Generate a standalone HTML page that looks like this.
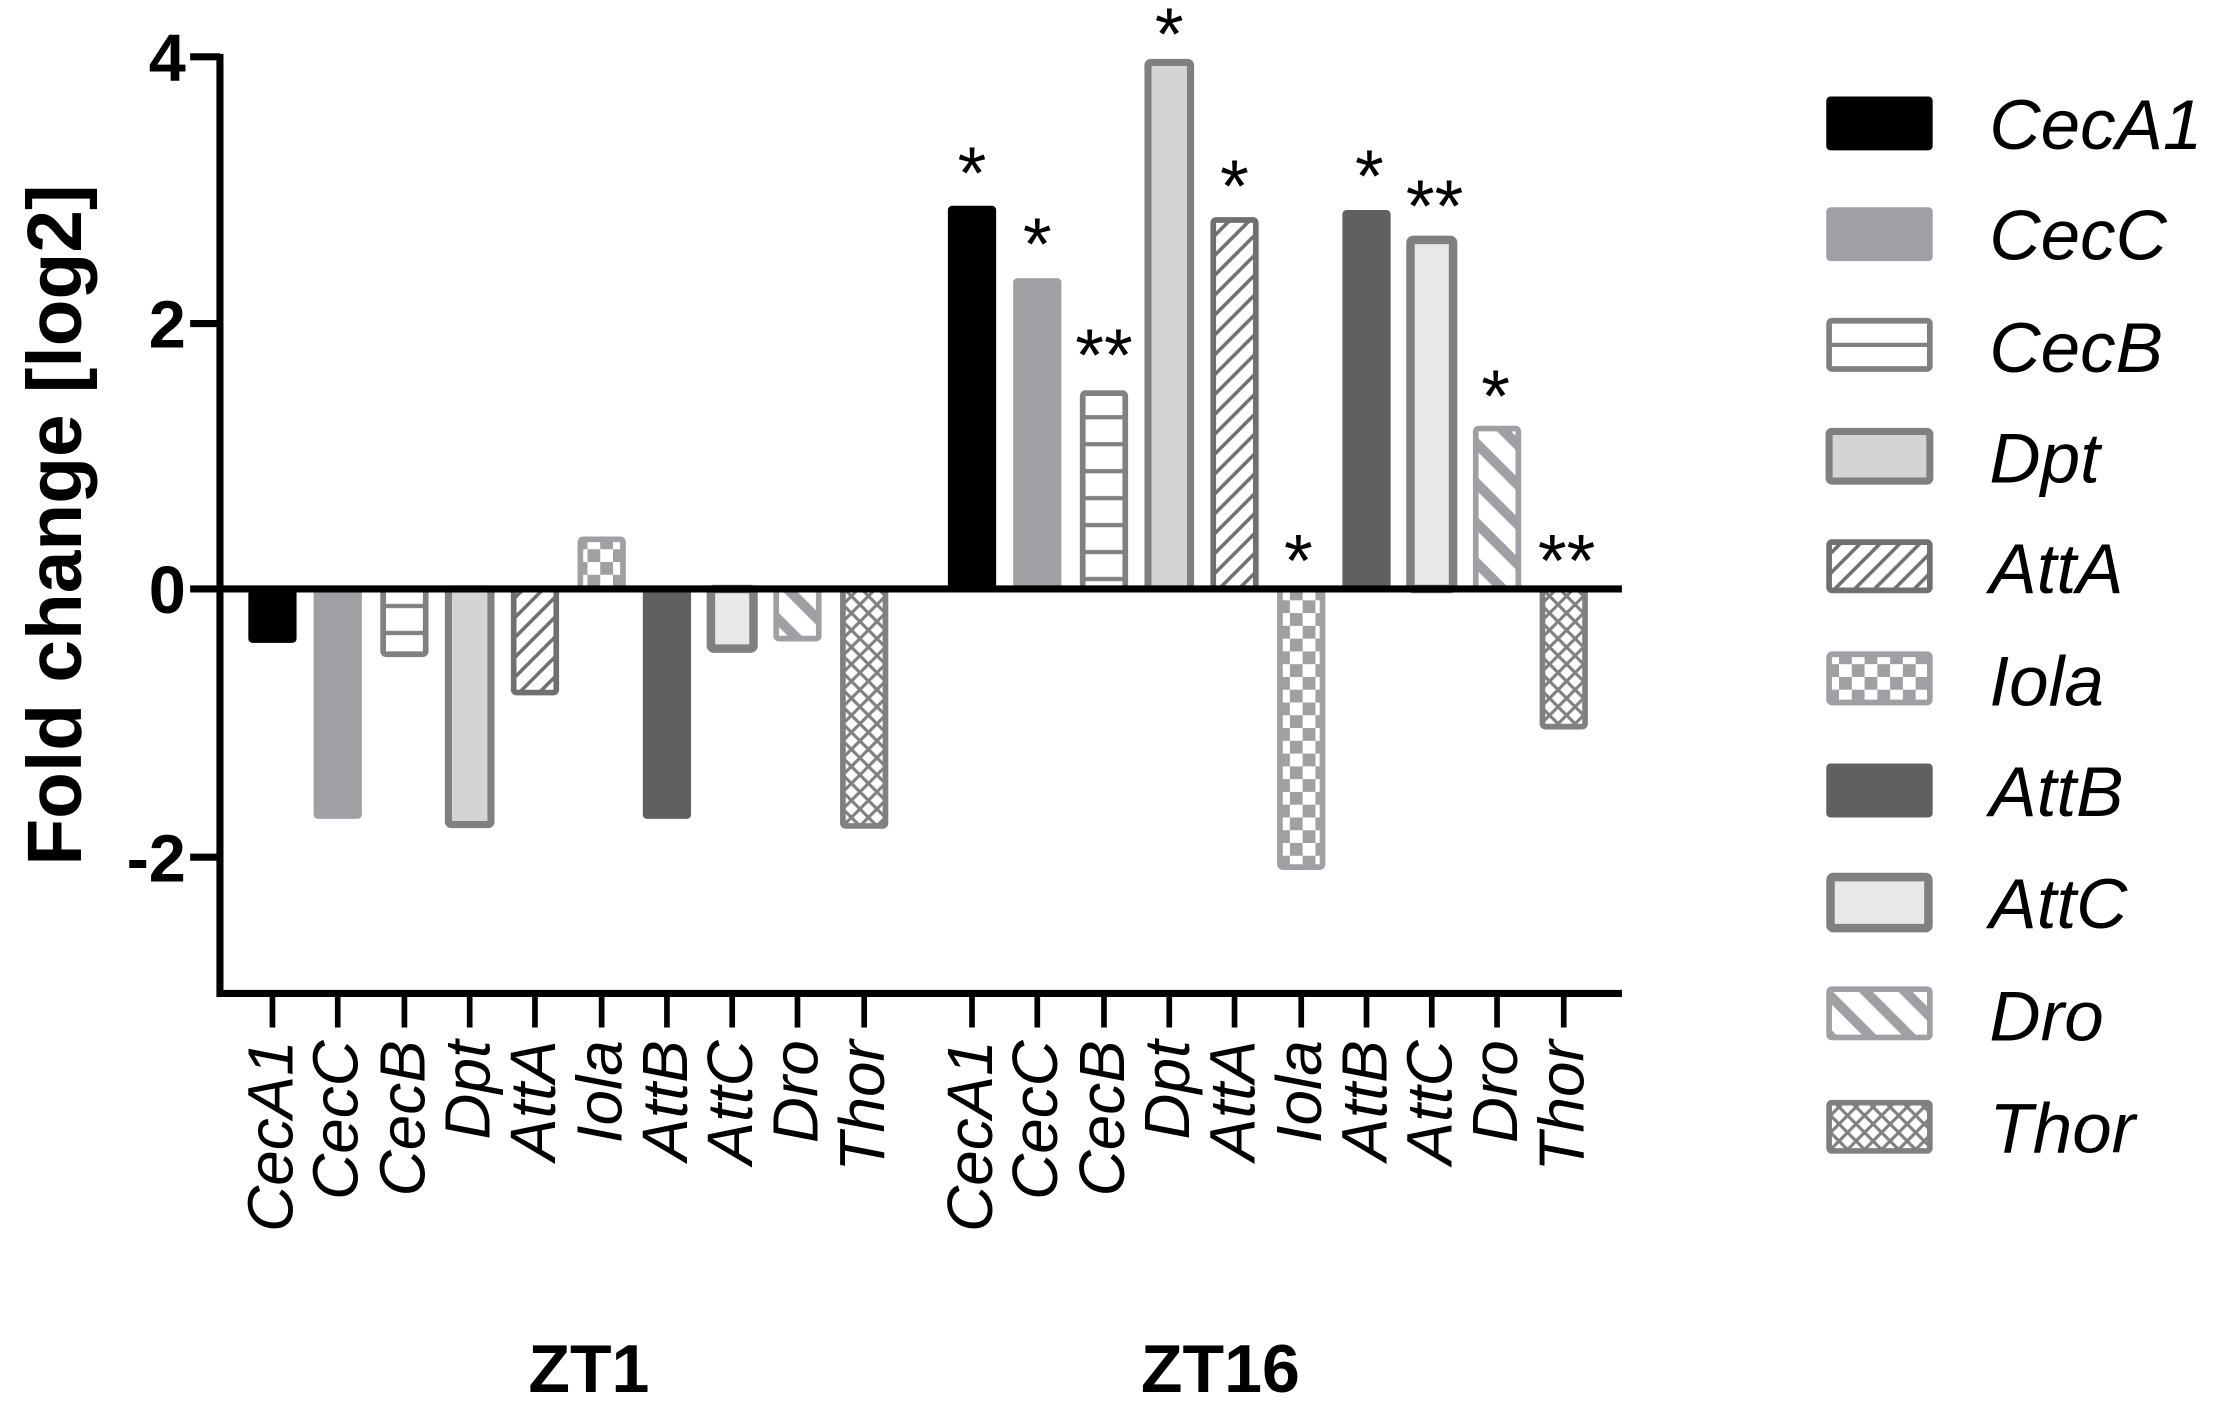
<!DOCTYPE html>
<html><head><meta charset="utf-8"><style>html,body{margin:0;padding:0;background:#fff}svg{display:block}</style></head>
<body>
<svg width="2225" height="1405" viewBox="0 0 1568 990" preserveAspectRatio="none" xmlns="http://www.w3.org/2000/svg" font-family="Liberation Sans, Arial, sans-serif">
<defs>
<pattern id="hl" patternUnits="userSpaceOnUse" width="10" height="19"><line x1="0" y1="9" x2="10" y2="9" stroke="#808080" stroke-width="3"/></pattern>
<pattern id="dg" patternUnits="userSpaceOnUse" width="14" height="14"><path d="M-3,17 L17,-3 M-3,3 L3,-3 M11,17 L17,11" stroke="#707070" stroke-width="2.5"/></pattern>
<pattern id="ck" patternUnits="userSpaceOnUse" width="18" height="18"><rect width="18" height="18" fill="#fff"/><rect x="9" y="0" width="9" height="9" fill="#a0a0a4"/><rect x="0" y="9" width="9" height="9" fill="#a0a0a4"/></pattern>
<pattern id="dr" patternUnits="userSpaceOnUse" width="28" height="28"><rect width="28" height="28" fill="#fff"/><path d="M-7,-7 L35,35 M-7,21 L7,35 M21,-7 L35,7" stroke="#a0a0a4" stroke-width="7"/></pattern>
<pattern id="xh" patternUnits="userSpaceOnUse" width="12" height="12"><path d="M-3,15 L15,-3 M-3,3 L3,-3 M9,15 L15,9 M-3,-3 L15,15 M-3,9 L3,15 M9,-3 L15,3" stroke="#808080" stroke-width="2.2"/></pattern>
</defs>

<rect x="175" y="415" width="34" height="38" rx="3" fill="#000"/>
<rect x="221" y="415" width="34" height="162" rx="3" fill="#a0a0a4"/>
<rect x="270" y="415" width="30" height="46" rx="2" fill="url(#hl)" stroke="#808080" stroke-width="4"/>
<rect x="316" y="415" width="30" height="166" rx="2" fill="#d4d4d4" stroke="#808080" stroke-width="5"/>
<rect x="362" y="415" width="30" height="73" rx="2" fill="url(#dg)" stroke="#707070" stroke-width="4"/>
<rect x="409" y="380" width="30" height="35" rx="2" fill="url(#ck)" stroke="#a0a0a4" stroke-width="4"/>
<rect x="453" y="415" width="34" height="162" rx="3" fill="#606060"/>
<rect x="501" y="415" width="30" height="42" rx="2" fill="#e8e8e8" stroke="#808080" stroke-width="6"/>
<rect x="547" y="415" width="30" height="35" rx="2" fill="url(#dr)" stroke="#a0a0a4" stroke-width="4"/>
<rect x="594" y="415" width="30" height="167" rx="2" fill="url(#xh)" stroke="#808080" stroke-width="4"/>

<rect x="668" y="145" width="34" height="270" rx="3" fill="#000"/>
<rect x="714" y="196" width="34" height="219" rx="3" fill="#a0a0a4"/>
<rect x="763" y="277" width="30" height="138" rx="2" fill="url(#hl)" stroke="#808080" stroke-width="4"/>
<rect x="809" y="44" width="30" height="371" rx="2" fill="#d4d4d4" stroke="#808080" stroke-width="5"/>
<rect x="855" y="155" width="30" height="260" rx="2" fill="url(#dg)" stroke="#707070" stroke-width="4"/>
<rect x="902" y="415" width="30" height="196" rx="2" fill="url(#ck)" stroke="#a0a0a4" stroke-width="4"/>
<rect x="946" y="148" width="34" height="267" rx="3" fill="#606060"/>
<rect x="994" y="169" width="30" height="246" rx="2" fill="#e8e8e8" stroke="#808080" stroke-width="6"/>
<rect x="1040" y="302" width="30" height="113" rx="2" fill="url(#dr)" stroke="#a0a0a4" stroke-width="4"/>
<rect x="1087" y="415" width="30" height="97" rx="2" fill="url(#xh)" stroke="#808080" stroke-width="4"/>

<g font-size="52" text-anchor="middle" fill="#000">
<text x="685" y="140">*</text>
<text x="731" y="190">*</text>
<text x="778" y="268">**</text>
<text x="824" y="42">*</text>
<text x="870" y="149">*</text>
<text x="915" y="413">*</text>
<text x="965" y="142">*</text>
<text x="1011" y="163">**</text>
<text x="1054" y="297">*</text>
<text x="1104" y="413">**</text>
</g>

<g stroke="#000" stroke-width="5" fill="none">
<path d="M155,38 V700 H1143"/>
<line x1="155" y1="415" x2="1143" y2="415"/>
<path d="M134,40 H155 M134,228 H155 M134,415 H155 M134,604 H155"/>
<path d="M192,700V724 M238,700V724 M285,700V724 M331,700V724 M377,700V724 M424,700V724 M470,700V724 M516,700V724 M562,700V724 M609,700V724 M685,700V724 M731,700V724 M778,700V724 M824,700V724 M870,700V724 M917,700V724 M963,700V724 M1009,700V724 M1055,700V724 M1102,700V724" stroke-width="4"/>
</g>
<g font-size="47" font-weight="bold" text-anchor="end">
<text x="131" y="57">4</text>
<text x="131" y="245">2</text>
<text x="131" y="432">0</text>
<text x="131" y="621">-2</text>
</g>
<text transform="translate(57,370) rotate(-90)" font-size="54" font-weight="bold" text-anchor="middle">Fold change [log2]</text>

<g font-size="45" font-style="italic" text-anchor="end">
<text transform="translate(206,733) rotate(-90)">CecA1</text>
<text transform="translate(252,733) rotate(-90)">CecC</text>
<text transform="translate(299,733) rotate(-90)">CecB</text>
<text transform="translate(345,733) rotate(-90)">Dpt</text>
<text transform="translate(391,733) rotate(-90)">AttA</text>
<text transform="translate(438,733) rotate(-90)">Iola</text>
<text transform="translate(484,733) rotate(-90)">AttB</text>
<text transform="translate(530,733) rotate(-90)">AttC</text>
<text transform="translate(576,733) rotate(-90)">Dro</text>
<text transform="translate(623,733) rotate(-90)">Thor</text>
<text transform="translate(699,733) rotate(-90)">CecA1</text>
<text transform="translate(745,733) rotate(-90)">CecC</text>
<text transform="translate(792,733) rotate(-90)">CecB</text>
<text transform="translate(838,733) rotate(-90)">Dpt</text>
<text transform="translate(884,733) rotate(-90)">AttA</text>
<text transform="translate(931,733) rotate(-90)">Iola</text>
<text transform="translate(977,733) rotate(-90)">AttB</text>
<text transform="translate(1023,733) rotate(-90)">AttC</text>
<text transform="translate(1069,733) rotate(-90)">Dro</text>
<text transform="translate(1116,733) rotate(-90)">Thor</text>
</g>
<g font-size="48" font-weight="bold" text-anchor="middle">
<text x="415" y="981">ZT1</text>
<text x="860" y="981">ZT16</text>
</g>

<rect x="1287" y="68" width="75" height="38" rx="3" fill="#000"/>
<rect x="1287" y="146" width="75" height="38" rx="3" fill="#a0a0a4"/>
<rect x="1289" y="226" width="71" height="34" rx="2" fill="#fff" stroke="#808080" stroke-width="4"/>
<line x1="1289" y1="243" x2="1360" y2="243" stroke="#808080" stroke-width="3"/>
<rect x="1289" y="304" width="71" height="35" rx="2" fill="#d4d4d4" stroke="#808080" stroke-width="5"/>
<rect x="1289" y="382" width="71" height="34" rx="2" fill="url(#dg)" stroke="#707070" stroke-width="4"/>
<rect x="1289" y="461" width="71" height="34" rx="2" fill="url(#ck)" stroke="#a0a0a4" stroke-width="4"/>
<rect x="1287" y="538" width="75" height="38" rx="3" fill="#606060"/>
<rect x="1290" y="618" width="69" height="36" rx="2" fill="#e8e8e8" stroke="#808080" stroke-width="6"/>
<rect x="1289" y="697" width="71" height="34" rx="2" fill="url(#dr)" stroke="#a0a0a4" stroke-width="4"/>
<rect x="1289" y="777" width="71" height="34" rx="2" fill="url(#xh)" stroke="#808080" stroke-width="4"/>
<g font-size="50" font-style="italic">
<text x="1402" y="105">CecA1</text>
<text x="1402" y="183">CecC</text>
<text x="1402" y="262">CecB</text>
<text x="1402" y="340">Dpt</text>
<text x="1402" y="418">AttA</text>
<text x="1402" y="497">Iola</text>
<text x="1402" y="575">AttB</text>
<text x="1402" y="654">AttC</text>
<text x="1402" y="733">Dro</text>
<text x="1402" y="812">Thor</text>
</g>
</svg>
</body></html>
